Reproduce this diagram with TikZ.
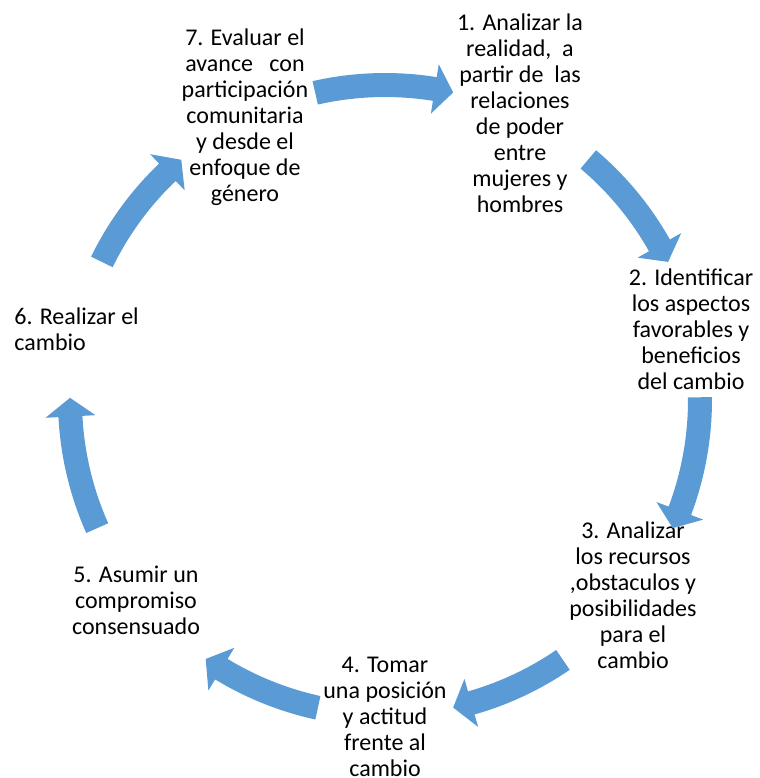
\documentclass[tikz,border=0pt]{standalone}
\usepackage{fontspec}
\setmainfont{Carlito}
\usetikzlibrary{positioning}
\definecolor{accentblue}{RGB}{91,155,213}

\begin{document}
\begin{tikzpicture}
		[x=0.5pt, y=-0.5pt,
		phase/.style= {align=center, anchor=base, inner sep=0pt, font=\fontsize{12}{13}\selectfont},
		left phase/.style= {phase, align=left, anchor=base west},
		cycle arrow/.style= {fill=accentblue, draw=none}
		]
		\useasboundingbox (0,0) rectangle (760,778);

		% anchor base = last line of each text
		\node [phase] (E1) at (520,212) {1. Analizar la\\realidad,\ \ a\\partir de\ \ las\\relaciones\\de poder\\entre\\mujeres y\\hombres};
		\node [phase] (E2) at (691,389) {2. Identificar\\los aspectos\\favorables y\\beneficios\\del cambio};
		\node [phase] (E3) at (633,668) {3. Analizar\\los recursos\\,obstaculos y\\posibilidades\\para el\\cambio};
		\node [phase] (E4) at (385,776) {4. Tomar\\una posición\\y actitud\\frente al\\cambio};
		\node [phase] (E5) at (136,634) {5. Asumir un\\compromiso\\consensuado};
		\node [left phase] (E6) at (14,350) {6. Realizar el\\cambio};
		\node [phase] (E7) at (245,201) {7. Evaluar el\\avance\ \ \ con\\participación\\comunitaria\\y desde el\\enfoque de\\género};

		\begin{scope}[shift={(385,400)}]
			\fill [cycle arrow] (-102.8:327) arc [start angle=-102.8, end angle=-80.9, radius=327] -- (-80.9:340) -- (-77.5:315) -- (-80.9:290) -- (-80.9:303) arc [start angle=-80.9, end angle=-102.8, radius=303] -- cycle;
			\fill [cycle arrow] (-49.8:327) arc [start angle=-49.8, end angle=-29.4, radius=327] -- (-29.4:340) -- (-26:315) -- (-29.4:290) -- (-29.4:303) arc [start angle=-29.4, end angle=-49.8, radius=303] -- cycle;
			\fill [cycle arrow] (-0.5:327) arc [start angle=-0.5, end angle=20.6, radius=327] -- (20.6:340) -- (24:315) -- (20.6:290) -- (20.6:303) arc [start angle=20.6, end angle=-0.5, radius=303] -- cycle;
			\fill [cycle arrow] (55.6:327) arc [start angle=55.6, end angle=74.1, radius=327] -- (74.1:340) -- (77.5:315) -- (74.1:290) -- (74.1:303) arc [start angle=74.1, end angle=55.6, radius=303] -- cycle;
			\fill [cycle arrow] (102.3:327) arc [start angle=102.3, end angle=121.3, radius=327] -- (121.3:340) -- (124.7:315) -- (121.3:290) -- (121.3:303) arc [start angle=121.3, end angle=102.3, radius=303] -- cycle;
			\fill [cycle arrow] (156:327) arc [start angle=156, end angle=177, radius=327] -- (177:340) -- (180.4:315) -- (177:290) -- (177:303) arc [start angle=177, end angle=156, radius=303] -- cycle;
			\fill [cycle arrow] (206:327) arc [start angle=206, end angle=226.3, radius=327] -- (226.3:340) -- (229.7:315) -- (226.3:290) -- (226.3:303) arc [start angle=226.3, end angle=206, radius=303] -- cycle;
		\end{scope}

	\end{tikzpicture}
\end{document}
